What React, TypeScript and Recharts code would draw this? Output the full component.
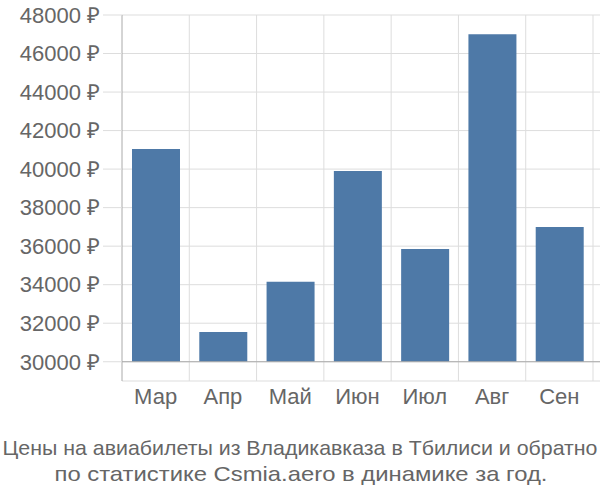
import { BarChart, Bar, XAxis, YAxis, CartesianGrid, ReferenceLine } from 'recharts';

const months = ['Мар', 'Апр', 'Май', 'Июн', 'Июл', 'Авг', 'Сен'];
const prices = [41050, 31550, 34150, 39900, 35850, 47000, 37000];
const yTicks = [30000, 32000, 34000, 36000, 38000, 40000, 42000, 44000, 46000, 48000];
const baseValue = 30000;
const titleLines = [
  'Цены на авиабилеты из Владикавказа в Тбилиси и обратно',
  'по статистике Csmia.aero в динамике за год.',
];

const data = months.map((m, i) => ({ month: m, range: [baseValue, prices[i]] }));

const FONT = '"Liberation Sans", Arial, sans-serif';
const PAD_RIGHT = 7;

export default function App() {
  return (
    <div style={{ position: 'absolute', left: 0, top: 0, width: 600, height: 500, fontFamily: FONT }}>
      <BarChart
        width={600}
        height={420}
        data={data}
        margin={{ top: 15, right: 0, bottom: 0, left: 0 }}
      >
        <CartesianGrid
          stroke="#dddddd"
          verticalCoordinatesGenerator={({ offset }: any) => {
            const bw = (offset.width - PAD_RIGHT) / months.length;
            return months.map((_, i) => offset.left + bw * (i + 1));
          }}
        />
        <XAxis
          dataKey="month"
          axisLine={false}
          tickLine={false}
          tickSize={4}
          tickMargin={3}
          padding={{ left: 0, right: PAD_RIGHT }}
          height={39}
          tick={{ fill: '#666666', fontSize: 22, fontFamily: FONT }}
        />
        <YAxis
          width={122}
          domain={[29000, 48000]}
          ticks={yTicks}
          interval={0}
          allowDataOverflow
          tickFormatter={(v: number) => `${v} ₽`}
          tickSize={19}
          tickMargin={3}
          tickLine={{ stroke: '#dddddd' }}
          axisLine={{ stroke: '#aaaaaa' }}
          tick={{ fill: '#666666', fontSize: 22, fontFamily: FONT }}
        />
        <ReferenceLine y={baseValue} stroke="#aaaaaa" />
        <Bar dataKey="range" fill="#4e79a7" barSize={48} isAnimationActive={false} />
      </BarChart>
      <svg
        width={600}
        height={80}
        style={{ position: 'absolute', left: 0, top: 420 }}
      >
        <text
          x={300}
          y={35}
          textAnchor="middle"
          fill="#666666"
          fontSize={21}
          fontFamily={FONT}
          textLength={595}
          lengthAdjust="spacingAndGlyphs"
        >
          {titleLines[0]}
        </text>
        <text
          x={301}
          y={61}
          textAnchor="middle"
          fill="#666666"
          fontSize={21}
          fontFamily={FONT}
          textLength={493}
          lengthAdjust="spacingAndGlyphs"
        >
          {titleLines[1]}
        </text>
      </svg>
    </div>
  );
}
